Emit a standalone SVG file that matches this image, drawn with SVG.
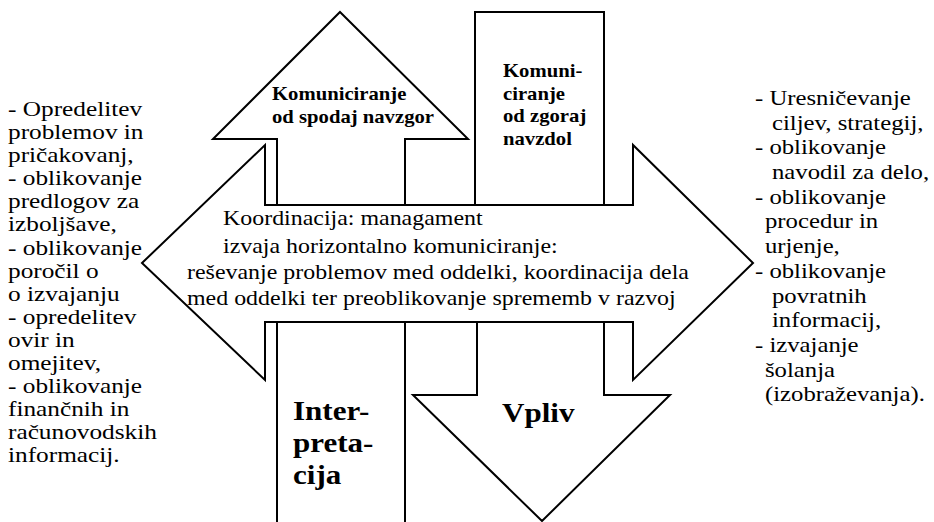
<svg xmlns="http://www.w3.org/2000/svg" width="934" height="522" viewBox="0 0 934 522">
<style>
.sh{fill:#fff;stroke:#000;stroke-width:2;stroke-linejoin:miter}
text{font-family:'Liberation Serif','Times New Roman',Times,serif;fill:#000}
.col{font-size:22px}
.colr{font-size:21.5px}
.mid{font-size:20.8px}
.bs{font-size:18px;font-weight:bold}
.bb{font-size:27px;font-weight:bold}
</style>
<rect width="934" height="522" fill="#fff"/>
<g id="up-arrow">
<polygon class="sh" points="340,12 468,139 405,139 405,205 277,205 277,139 213,139"/>
<text class="bs" font-family="'Liberation Serif', serif" transform="translate(272,0) scale(1.15,1)"><tspan x="0" y="100">Komuniciranje</tspan><tspan x="0" y="123">od spodaj navzgor</tspan></text>
</g>
<g id="down-box">
<rect class="sh" x="475" y="12" width="129" height="193"/>
<text class="bs" font-family="'Liberation Serif', serif" transform="translate(503,0) scale(1.15,1)"><tspan x="0" y="77">Komuni-</tspan><tspan x="0" y="100">ciranje</tspan><tspan x="0" y="122">od zgoraj</tspan><tspan x="0" y="145">navzdol</tspan></text>
</g>
<g id="interpretacija">
<rect class="sh" x="277" y="322" width="128" height="220"/>
<text class="bb" font-family="'Liberation Serif', serif" transform="translate(293,0) scale(1.15,1)"><tspan x="0" y="420">Inter-</tspan><tspan x="0" y="452">preta-</tspan><tspan x="0" y="484">cija</tspan></text>
</g>
<g id="vpliv">
<polygon class="sh" points="477,322 604,322 604,395 670,395 542,521 413,395 477,395"/>
<text class="bb" font-family="'Liberation Serif', serif" transform="translate(502,0) scale(1.15,1)"><tspan x="0" y="422">Vpliv</tspan></text>
</g>
<g id="koordinacija">
<polygon class="sh" points="142,263 265,145 265,205 633,205 633,145 753,263 633,380 633,322 265,322 265,380"/>
<text class="mid" font-family="'Liberation Serif', serif" transform="translate(223,0) scale(1.15,1)"><tspan x="0" y="225">Koordinacija: managament</tspan><tspan x="0" y="253">izvaja horizontalno komuniciranje:</tspan></text>
<text class="mid" font-family="'Liberation Serif', serif" transform="translate(187,0) scale(1.15,1)"><tspan x="0" y="279">reševanje problemov med oddelki, koordinacija dela</tspan><tspan x="0" y="305">med oddelki ter preoblikovanje sprememb v razvoj</tspan></text>
</g>
<g id="left-list">
<text class="col" font-family="'Liberation Serif', serif" transform="translate(8,0) scale(1.15,1)">
<tspan x="0" y="116">- Opredelitev</tspan>
<tspan x="0" y="139.1">problemov in</tspan>
<tspan x="0" y="162.2">pričakovanj,</tspan>
<tspan x="0" y="185.3">- oblikovanje</tspan>
<tspan x="0" y="208.4">predlogov za</tspan>
<tspan x="0" y="231.5">izboljšave,</tspan>
<tspan x="0" y="254.6">- oblikovanje</tspan>
<tspan x="0" y="277.7">poročil o</tspan>
<tspan x="0" y="300.8">o izvajanju</tspan>
<tspan x="0" y="323.9">- opredelitev</tspan>
<tspan x="0" y="347">ovir in</tspan>
<tspan x="0" y="370.1">omejitev,</tspan>
<tspan x="0" y="393.2">- oblikovanje</tspan>
<tspan x="0" y="416.3">finančnih in</tspan>
<tspan x="0" y="439.4">računovodskih</tspan>
<tspan x="0" y="462.5">informacij.</tspan>
</text>
</g>
<g id="right-list">
<text class="colr" font-family="'Liberation Serif', serif" transform="translate(755,0) scale(1.15,1)">
<tspan x="0" y="105">- Uresničevanje</tspan>
<tspan x="14.8" y="129.7">ciljev, strategij,</tspan>
<tspan x="0" y="154.4">- oblikovanje</tspan>
<tspan x="14.8" y="179.1">navodil za delo,</tspan>
<tspan x="0" y="203.8">- oblikovanje</tspan>
<tspan x="8.7" y="228.5">procedur in</tspan>
<tspan x="8.7" y="253.2">urjenje,</tspan>
<tspan x="0" y="277.9">- oblikovanje</tspan>
<tspan x="14.8" y="302.6">povratnih</tspan>
<tspan x="14.8" y="327.3">informacij,</tspan>
<tspan x="0" y="352">- izvajanje</tspan>
<tspan x="8.7" y="376.7">šolanja</tspan>
<tspan x="8.7" y="401.4">(izobraževanja).</tspan>
</text>
</g>
<g id="connectors"></g>
</svg>
